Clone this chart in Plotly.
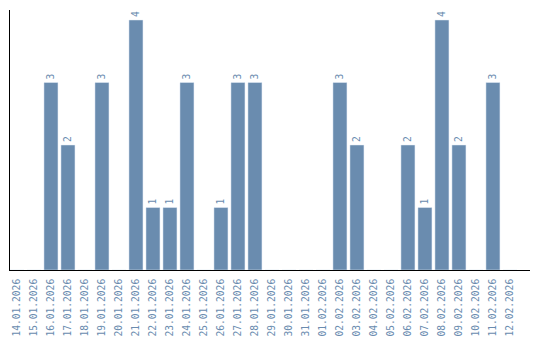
import plotly.graph_objects as go

dates = ["14.01.2026","15.01.2026","16.01.2026","17.01.2026","18.01.2026","19.01.2026",
         "20.01.2026","21.01.2026","22.01.2026","23.01.2026","24.01.2026","25.01.2026",
         "26.01.2026","27.01.2026","28.01.2026","29.01.2026","30.01.2026","31.01.2026",
         "01.02.2026","02.02.2026","03.02.2026","04.02.2026","05.02.2026","06.02.2026",
         "07.02.2026","08.02.2026","09.02.2026","10.02.2026","11.02.2026","12.02.2026"]
counts = [0,0,3,2,0,3,0,4,1,1,3,0,1,3,3,0,0,0,0,3,2,0,0,2,1,4,2,0,3,0]

color = "#6a8caf"
labels = [str(v) if v > 0 else "" for v in counts]

fig = go.Figure(go.Bar(
    x=dates, y=counts, marker_color=color, text=labels,
    textposition="outside", textangle=-90, cliponaxis=False,
    textfont=dict(family="DejaVu Sans Mono", size=9.6, color=color),
))
fig.update_layout(
    width=540, height=340, margin=dict(l=10, r=10, t=10, b=70),
    plot_bgcolor="white", paper_bgcolor="white", bargap=0.176, showlegend=False,
)
fig.update_xaxes(type="category", range=[-0.41, 30.18], tickangle=-90, showline=True,
                 linecolor="black", linewidth=1, showgrid=False, ticks="", automargin=False,
                 ticklabelstandoff=4,
                 tickfont=dict(family="DejaVu Sans Mono", size=9.6, color=color))
fig.update_yaxes(range=[0, 4.16], showline=True, linecolor="black", linewidth=1, showgrid=False,
                 showticklabels=False, ticks="", zeroline=False, automargin=False)
fig.write_html("out.html")
